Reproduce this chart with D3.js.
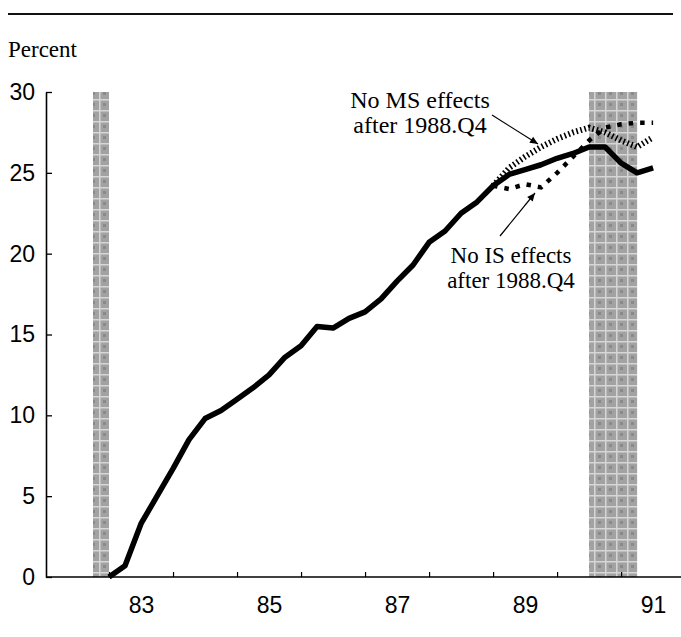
<!DOCTYPE html>
<html>
<head>
<meta charset="utf-8">
<script src="https://cdn.jsdelivr.net/npm/d3@7"></script>
<style>
  html, body { margin: 0; padding: 0; background: #fff; }
  svg { display: block; }
</style>
</head>
<body>
<svg id="chart" width="681" height="637"></svg>
<script>
// ---------- data ----------
const quarters = ["1982Q4",
  "1983Q1","1983Q2","1983Q3","1983Q4",
  "1984Q1","1984Q2","1984Q3","1984Q4",
  "1985Q1","1985Q2","1985Q3","1985Q4",
  "1986Q1","1986Q2","1986Q3","1986Q4",
  "1987Q1","1987Q2","1987Q3","1987Q4",
  "1988Q1","1988Q2","1988Q3","1988Q4",
  "1989Q1","1989Q2","1989Q3","1989Q4",
  "1990Q1","1990Q2","1990Q3","1990Q4",
  "1991Q1","1991Q2"];
const actualValues = [0, 0.7, 3.3, 5.0, 6.7, 8.5, 9.8, 10.3, 11.0, 11.7, 12.5, 13.6,
  14.3, 15.5, 15.4, 16.0, 16.4, 17.2, 18.3, 19.3, 20.7, 21.4, 22.5, 23.2,
  24.2, 24.9, 25.2, 25.5, 25.9, 26.2, 26.6, 26.6, 25.6, 25.0, 25.3];
const simStart = "1988Q4";
const noMSValues = [24.2, 25.3, 26.0, 26.6, 27.1, 27.5, 27.8, 27.5, 27.0, 26.6, 27.2];
const noISValues = [24.2, 24.0, 24.3, 24.1, 25.0, 26.0, 27.0, 27.8, 28.0, 28.1, 28.1];
const recessions = [["1982Q3", "1982Q4"], ["1990Q2", "1991Q1"]]; // [quarter before start, last quarter]
const yTicks = [0, 5, 10, 15, 20, 25, 30];
const yearTicks = [1983, 1984, 1985, 1986, 1987, 1988, 1989, 1990, 1991];
const yearLabels = ["83", "85", "87", "89", "91"];
const yAxisLabel = "Percent";
const msLabel = ["No MS effects", "after 1988.Q4"];
const isLabel = ["No IS effects", "after 1988.Q4"];

// ---------- helpers ----------
const qTime = q => +q.slice(0, 4) + (+q.slice(5)) / 4; // end of quarter
const svg = d3.select("#chart");
const x = d3.scaleLinear().domain([1982, 1991.92]).range([45, 680]);
const y = d3.scaleLinear().domain([0, 30]).range([577, 92]);

const serif = "'Liberation Serif', 'Times New Roman', serif";
const sans = "'Liberation Sans Narrow', 'Arial Narrow', 'Liberation Sans', Arial, sans-serif";

// top rule
svg.append("line").attr("x1", 8).attr("x2", 673).attr("y1", 14).attr("y2", 14)
  .attr("stroke", "#111").attr("stroke-width", 2);

// pattern for recession shading
const defs = svg.append("defs");
const pat = defs.append("pattern").attr("id", "rec").attr("patternUnits", "userSpaceOnUse")
  .attr("width", 11).attr("height", 11);
pat.append("rect").attr("width", 11).attr("height", 11).attr("fill", "#a2a2a2");
pat.append("rect").attr("x", 0).attr("y", 0).attr("width", 11).attr("height", 1.5).attr("fill", "#d6d6d6");
pat.append("rect").attr("x", 0).attr("y", 0).attr("width", 1.5).attr("height", 11).attr("fill", "#d6d6d6");
pat.append("rect").attr("x", 4).attr("y", 4).attr("width", 3).attr("height", 3).attr("fill", "#8a8a8a");

defs.append("marker").attr("id", "arrow").attr("viewBox", "0 0 10 10")
  .attr("refX", 10).attr("refY", 5).attr("markerWidth", 10).attr("markerHeight", 8)
  .attr("markerUnits", "userSpaceOnUse").attr("orient", "auto")
  .append("path").attr("d", "M0,0.5 L10,5 L0,9.5 Z").attr("fill", "#000");

svg.selectAll("rect.rec").data(recessions).enter().append("rect")
  .attr("class", "rec")
  .attr("x", d => x(qTime(d[0])))
  .attr("width", d => x(qTime(d[1])) - x(qTime(d[0])))
  .attr("y", y(30))
  .attr("height", y(0) - y(30))
  .attr("fill", "url(#rec)");

// axes
const yAxis = d3.axisLeft(y).tickValues(yTicks).tickSizeInner(-6).tickSizeOuter(0).tickPadding(11);
const gy = svg.append("g").attr("transform", "translate(46,0)").call(yAxis);
gy.select(".domain").attr("stroke-width", 1.6).attr("stroke", "#000");
gy.selectAll(".tick line").attr("stroke-width", 1.3);
gy.selectAll(".tick text").attr("font-family", sans).attr("font-size", 23).attr("fill", "#000");

const xAxis = d3.axisBottom(x).tickValues(yearTicks).tickSizeInner(-5).tickSizeOuter(0).tickFormat("");
const gx = svg.append("g").attr("transform", "translate(0,577)").call(xAxis);
gx.select(".domain").attr("d", `M46,0H681`).attr("stroke-width", 1.6).attr("stroke", "#000");
gx.selectAll(".tick line").attr("stroke-width", 1.2);

const labelYears = yearLabels.map(s => 1900 + (+s) + 0.5);
const xLab = d3.axisBottom(x).tickValues(labelYears).tickSize(0).tickPadding(20)
  .tickFormat((d, i) => yearLabels[i]);
const gxl = svg.append("g").attr("transform", "translate(0,577)").call(xLab);
gxl.select(".domain").remove();
gxl.selectAll(".tick text").attr("font-family", sans).attr("font-size", 23).attr("fill", "#000");

// y label
svg.append("text").attr("x", 8).attr("y", 57).text(yAxisLabel)
  .attr("font-family", serif).attr("font-size", 23).attr("fill", "#000");

// lines
const line = d3.line().x(d => x(d.t)).y(d => y(d.v));
const actual = quarters.map((q, i) => ({ t: qTime(q), v: actualValues[i] }));
const startIdx = quarters.indexOf(simStart);
const noMS = noMSValues.map((v, i) => ({ t: qTime(quarters[startIdx + i]), v }));
const noIS = noISValues.map((v, i) => ({ t: qTime(quarters[startIdx + i]), v }));

svg.append("path").datum(noMS).attr("d", line).attr("fill", "none")
  .attr("stroke", "#000").attr("stroke-width", 6).attr("stroke-dasharray", "1.6,2.6");
svg.append("path").datum(noIS).attr("d", line).attr("fill", "none")
  .attr("stroke", "#000").attr("stroke-width", 4.5).attr("stroke-dasharray", "4.5,7");
svg.append("path").datum(actual).attr("d", line).attr("fill", "none")
  .attr("stroke", "#000").attr("stroke-width", 5.5).attr("stroke-linejoin", "round");

// annotations
function label(lines, cx, by, fs) {
  const t = svg.append("text").attr("text-anchor", "middle")
    .attr("font-family", serif).attr("font-size", fs).attr("fill", "#000");
  lines.forEach((s, i) => t.append("tspan").attr("x", cx).attr("y", by + i * 25).text(s));
}
label(msLabel, 420, 108, 24);
label(isLabel, 511, 263, 23);

svg.append("line").attr("x1", 492).attr("y1", 115).attr("x2", 538).attr("y2", 144)
  .attr("stroke", "#000").attr("stroke-width", 1.2).attr("marker-end", "url(#arrow)");
svg.append("line").attr("x1", 500).attr("y1", 236).attr("x2", 535).attr("y2", 193)
  .attr("stroke", "#000").attr("stroke-width", 1.2).attr("marker-end", "url(#arrow)");
</script>
</body>
</html>
